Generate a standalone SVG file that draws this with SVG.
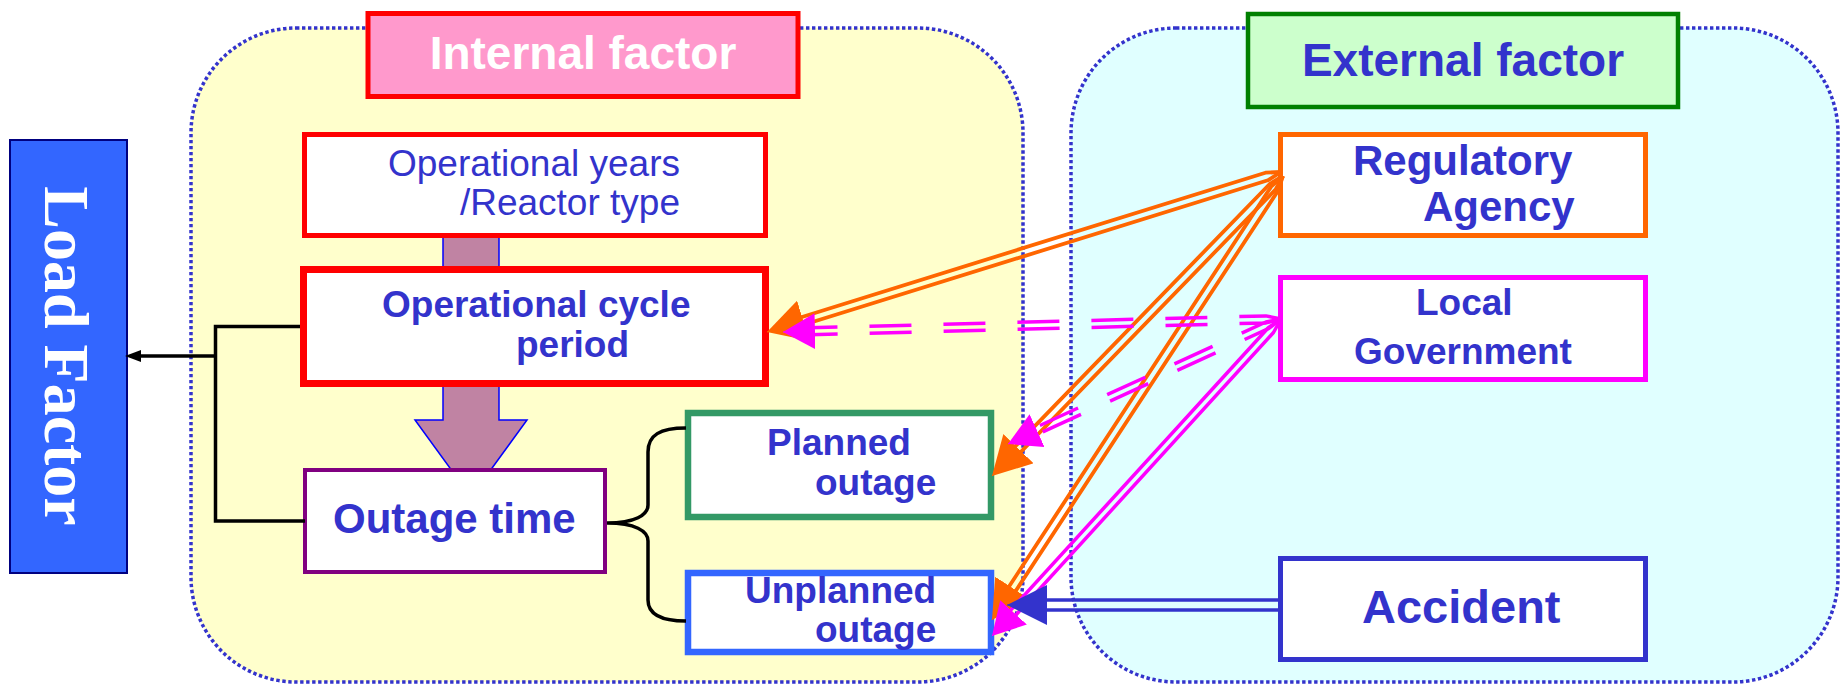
<svg xmlns="http://www.w3.org/2000/svg" width="1847" height="685" viewBox="0 0 1847 685">
<style>
.t{font-family:"Liberation Sans",Arial,sans-serif;fill:#3333CC}
.b{font-weight:bold}
.cont{stroke:#3333CC;stroke-width:3.5;stroke-dasharray:3.4 2.6}
.box{fill:#FFFFFF}
.or{fill:none;stroke:#FF6600;stroke-width:3.8;stroke-linejoin:round}
.mg{fill:none;stroke:#FF00FF;stroke-width:3.5;stroke-linejoin:round}
.dash{stroke-dasharray:42 32}
.bl{fill:none;stroke:#3333CC;stroke-width:3.5}
.blk{fill:none;stroke:#000000;stroke-width:3.5}
.mauve{fill:#C083A3;stroke:#0000FF;stroke-width:1.5}
</style>
<defs>
<marker id="hO" markerUnits="userSpaceOnUse" viewBox="0 0 38 42" markerWidth="38" markerHeight="42" refX="38" refY="21" orient="auto"><path d="M0,0 L38,21 L0,42 z" fill="#FF6600"/></marker>
<marker id="hM" markerUnits="userSpaceOnUse" viewBox="0 0 32 36" markerWidth="32" markerHeight="36" refX="32" refY="18" orient="auto"><path d="M0,0 L32,18 L0,36 z" fill="#FF00FF"/></marker>
<marker id="hB" markerUnits="userSpaceOnUse" viewBox="0 0 40 40" markerWidth="40" markerHeight="40" refX="40" refY="20" orient="auto"><path d="M0,0 L40,20 L0,40 z" fill="#3333CC"/></marker>
<marker id="hK" markerUnits="userSpaceOnUse" viewBox="0 0 16 12" markerWidth="16" markerHeight="12" refX="0" refY="6" orient="auto"><path d="M0,0 L16,6 L0,12 z" fill="#000000"/></marker>
</defs>

<!-- containers -->
<g id="internal-area"><rect class="cont" x="191" y="28" width="832" height="654" rx="105" ry="105" fill="#FFFFCC"/></g>
<g id="external-area"><rect class="cont" x="1071" y="28" width="767" height="654" rx="105" ry="105" fill="#E0FFFF"/></g>

<!-- headers -->
<g id="internal-factor">
<rect x="368" y="13.5" width="430" height="83" fill="#FF99CC" stroke="#FF0000" stroke-width="5"/>
<text class="t b" x="583" y="69" font-size="46" text-anchor="middle" style="fill:#FFFFFF">Internal factor</text>
</g>
<g id="external-factor">
<rect x="1248" y="14" width="430" height="93" fill="#CCFFCC" stroke="#008000" stroke-width="4.5"/>
<text class="t b" x="1463" y="76" font-size="46" text-anchor="middle">External factor</text>
</g>

<!-- load factor -->
<g id="load-factor">
<rect x="10" y="140" width="117" height="433" fill="#3366FF" stroke="#000080" stroke-width="2"/>
<text transform="translate(66,356) rotate(90)" x="0" y="21" font-family="'Liberation Serif','Times New Roman',serif" font-weight="bold" font-size="64" fill="#FFFFFF" text-anchor="middle">Load Factor</text>
</g>

<!-- block arrows -->
<g id="flow-arrows">
<rect class="mauve" x="443" y="236" width="56" height="32"/>
<polygon class="mauve" points="443,385 499,385 499,420 527,420 471,497 415,420 443,420"/>
</g>

<!-- internal nodes -->
<g id="operational-years">
<rect class="box" x="304.5" y="134.5" width="461" height="101" stroke="#FF0000" stroke-width="5"/>
<text class="t" font-size="37" text-anchor="end"><tspan x="680" y="176">Operational years</tspan><tspan x="680" y="215">/Reactor type</tspan></text>
</g>
<g id="operational-cycle">
<rect class="box" x="303.5" y="269.5" width="462" height="114" stroke="#FF0000" stroke-width="7"/>
<text class="t b" font-size="37"><tspan x="382" y="317">Operational cycle</tspan><tspan x="516" y="357">period</tspan></text>
</g>
<g id="outage-time">
<rect class="box" x="305" y="470" width="300" height="102" stroke="#800080" stroke-width="4"/>
<text class="t b" x="333" y="533" font-size="42">Outage time</text>
</g>
<g id="planned-outage">
<rect class="box" x="688" y="413" width="303" height="104" stroke="#339966" stroke-width="6.5"/>
<text class="t b" font-size="37"><tspan x="767" y="455">Planned</tspan><tspan x="815" y="495">outage</tspan></text>
</g>
<g id="unplanned-outage">
<rect class="box" x="688" y="573" width="303" height="79" stroke="#3366FF" stroke-width="6.5"/>
<text class="t b" font-size="37"><tspan x="745" y="603">Unplanned</tspan><tspan x="815" y="642">outage</tspan></text>
</g>

<!-- external nodes -->
<g id="regulatory-agency">
<rect class="box" x="1280.5" y="134.5" width="365" height="101" stroke="#FF6600" stroke-width="5"/>
<text class="t b" font-size="42"><tspan x="1353" y="175">Regulatory</tspan><tspan x="1423" y="221">Agency</tspan></text>
</g>
<g id="local-government">
<rect class="box" x="1280.5" y="277.5" width="365" height="102" stroke="#FF00FF" stroke-width="5"/>
<text class="t b" font-size="37"><tspan x="1416" y="315">Local</tspan><tspan x="1354" y="364">Government</tspan></text>
</g>
<g id="accident">
<rect class="box" x="1280.5" y="558.5" width="365" height="101" stroke="#3333CC" stroke-width="5"/>
<text class="t b" x="1362" y="623" font-size="47">Accident</text>
</g>

<!-- connectors -->
<g id="connectors">
<path class="blk" d="M300,326.5 L215.5,326.5 L215.5,521 L305,521"/>
<path class="blk" d="M215.5,356 L141,356" marker-end="url(#hK)"/>
<path class="blk" d="M686,428 C660,428 648,435 648,452 L648,505 C648,515 635,523 607,523 C635,523 648,531 648,541 L648,600 C648,614 660,621 686,621"/>

<path class="or" d="M1281,172 L1265.5,172.7 L796.4,318.7"/>
<path class="or" d="M1281,172 L1267.9,180.3 L798.8,326.3"/>
<path d="M797.6,322.5 L767,332" stroke="#FF6600" stroke-width="1" marker-end="url(#hO)"/>

<path class="or" d="M1283,176 L1269.7,184 L1011.4,450.2"/>
<path class="or" d="M1283,176 L1275.5,189.6 L1017.2,455.8"/>
<path d="M1014.3,453 L992,476" stroke="#FF6600" stroke-width="1" marker-end="url(#hO)"/>

<path class="or" d="M1283,176 L1271.4,186.3 L1006.1,591"/>
<path class="or" d="M1283,176 L1278.1,190.7 L1012.8,595.4"/>
<path d="M1009.5,593.2 L992,620" stroke="#FF6600" stroke-width="1" marker-end="url(#hO)"/>

<path class="mg dash" d="M1281,319 L1265.9,315.9 L808.9,327.8"/>
<path class="mg dash" d="M1281,319 L1266.1,322.9 L809.1,334.8"/>
<path d="M809,331.3 L783,332" stroke="#FF00FF" stroke-width="1" marker-end="url(#hM)"/>

<path class="mg dash" d="M1281,319 L1265.9,322 L1030.1,430"/>
<path class="mg dash" d="M1281,319 L1268.9,328.4 L1033.1,436.4"/>
<path d="M1031.6,433.2 L1008,444" stroke="#FF00FF" stroke-width="1" marker-end="url(#hM)"/>

<path class="mg" d="M1281,319 L1268.3,327.7 L1006.9,614.4"/>
<path class="mg" d="M1281,319 L1273.5,332.5 L1012.1,619.2"/>
<path d="M1009.5,616.8 L992,636" stroke="#FF00FF" stroke-width="1" marker-end="url(#hM)"/>

<path class="bl" d="M1278,600 L1041,600"/>
<path class="bl" d="M1278,610 L1041,610"/>
<path d="M1041,605 L1007,605" stroke="#3333CC" stroke-width="1" marker-end="url(#hB)"/>
</g>
</svg>
